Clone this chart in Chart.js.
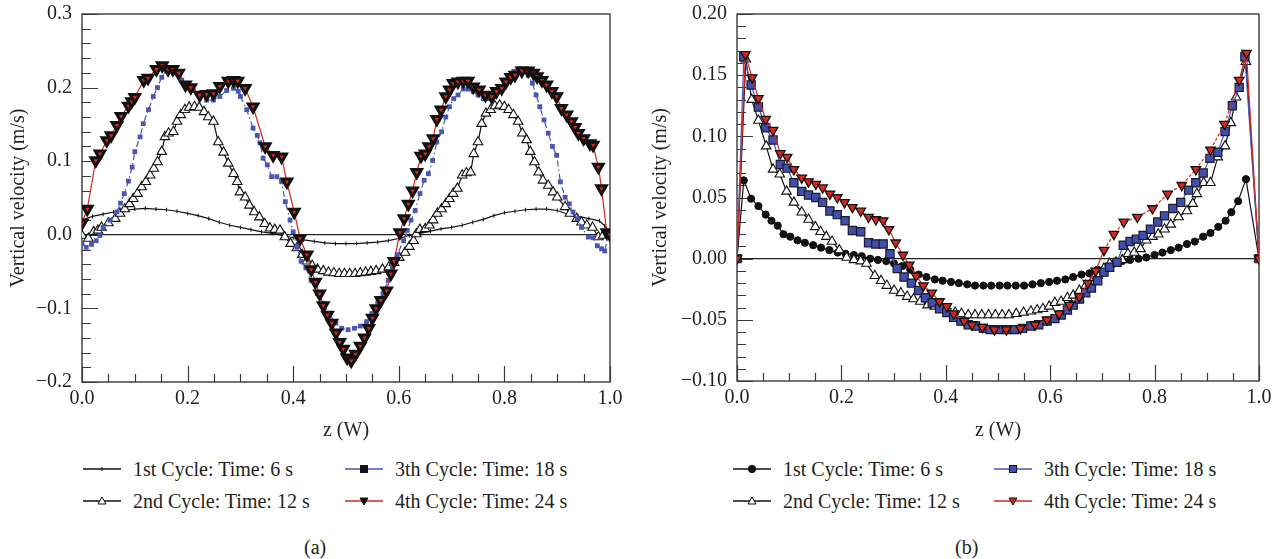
<!DOCTYPE html>
<html>
<head>
<meta charset="utf-8">
<script src="https://cdn.jsdelivr.net/npm/chart.js@4.4.1/dist/chart.umd.min.js"></script>
<style>
  body { margin: 0; background: #fff; }
  #page { position: relative; width: 1282px; height: 559px; overflow: hidden; font-family: "Liberation Serif", "DejaVu Serif", serif; color: #231f20; }
  .box { position: absolute; top: 0; height: 445px; }
  .leg { position: absolute; font-size: 20px; line-height: 24px; white-space: nowrap; display: flex; align-items: center; }
  .leg svg { margin-right: 12px; }
  .cap { position: absolute; top: 535px; font-size: 20px; line-height: 24px; }
</style>
</head>
<body>
<div id="page">
  <div class="box" style="left:0;width:640px"><canvas id="chartA"></canvas></div>
  <div class="box" style="left:640px;width:642px"><canvas id="chartB"></canvas></div>
  <div id="legA"></div>
  <div id="legB"></div>
  <div class="cap" style="left:304px">(a)</div>
  <div class="cap" style="left:955px">(b)</div>
</div>
<script>
// ---------- panel (a) data ----------
var labels = ['1st Cycle: Time: 6 s', '2nd Cycle: Time: 12 s', '3th Cycle: Time: 18 s', '4th Cycle: Time: 24 s'];

var aZ1 = [0,0.02,0.04,0.06,0.08,0.10,0.12,0.14,0.16,0.18,0.20,0.22,0.24,0.26,0.28,0.30,0.32,0.34,0.36,0.38,0.40,0.42,0.44,0.46,0.48,0.50,0.52,0.54,0.56,0.58,0.60,0.62,0.64,0.66,0.68,0.70,0.72,0.74,0.76,0.78,0.80,0.82,0.84,0.86,0.88,0.90,0.92,0.94,0.96,0.98,0.99,1.0];
var aV1 = [0.02,0.025,0.028,0.031,0.033,0.035,0.036,0.035,0.034,0.032,0.029,0.026,0.022,0.017,0.013,0.010,0.007,0.004,0.002,-0.001,-0.004,-0.007,-0.009,-0.011,-0.012,-0.012,-0.012,-0.011,-0.010,-0.008,-0.005,-0.001,0.002,0.005,0.008,0.010,0.013,0.017,0.021,0.026,0.030,0.032,0.034,0.035,0.035,0.033,0.028,0.025,0.022,0.019,0.012,0.0];

var aZ2 = [0,0.012,0.022,0.03,0.037,0.05,0.063,0.072,0.081,0.09,0.097,0.105,0.113,0.121,0.129,0.136,0.143,0.151,0.157,0.164,0.173,0.18,0.187,0.195,0.203,0.213,0.222,0.231,0.239,0.249,0.258,0.268,0.277,0.287,0.294,0.299,0.309,0.317,0.326,0.336,0.346,0.356,0.365,0.375,0.384,0.395,0.407,0.417,0.426,0.436,0.446,0.457,0.467,0.477,0.487,0.497,0.507,0.517,0.527,0.537,0.547,0.557,0.569,0.581,0.591,0.601,0.612,0.62,0.628,0.633,0.64,0.65,0.658,0.665,0.673,0.681,0.689,0.696,0.703,0.711,0.72,0.728,0.736,0.742,0.75,0.757,0.765,0.774,0.782,0.791,0.8,0.808,0.817,0.826,0.834,0.842,0.849,0.857,0.865,0.873,0.883,0.892,0.9,0.915,0.924,0.937,0.946,0.956,0.967,0.978,0.987,1.0];
var aV2 = [-0.001,-0.005,0.004,0.006,0.01,0.016,0.022,0.029,0.035,0.042,0.049,0.056,0.065,0.072,0.081,0.09,0.099,0.113,0.133,0.138,0.14,0.154,0.163,0.17,0.173,0.174,0.173,0.167,0.16,0.154,0.126,0.112,0.097,0.083,0.072,0.058,0.051,0.04,0.031,0.024,0.015,0.009,0.007,0.006,-0.003,-0.012,-0.018,-0.027,-0.036,-0.042,-0.047,-0.049,-0.051,-0.052,-0.053,-0.053,-0.053,-0.053,-0.052,-0.051,-0.05,-0.049,-0.047,-0.044,-0.038,-0.031,-0.024,-0.016,-0.008,0.001,0.007,0.008,0.013,0.02,0.029,0.035,0.042,0.049,0.056,0.063,0.081,0.084,0.085,0.11,0.126,0.151,0.165,0.17,0.175,0.176,0.174,0.17,0.163,0.154,0.138,0.129,0.113,0.099,0.085,0.074,0.067,0.058,0.051,0.038,0.029,0.022,0.017,0.013,0.01,-0.003,-0.001,0.0];

var aZ3 = [0,0.008,0.018,0.027,0.034,0.04,0.053,0.066,0.073,0.08,0.088,0.095,0.1,0.11,0.116,0.126,0.135,0.143,0.151,0.16,0.17,0.178,0.189,0.198,0.211,0.223,0.236,0.249,0.261,0.274,0.287,0.296,0.3,0.312,0.324,0.332,0.337,0.343,0.351,0.359,0.369,0.378,0.385,0.394,0.4,0.407,0.415,0.424,0.434,0.446,0.457,0.469,0.481,0.492,0.504,0.516,0.527,0.539,0.549,0.56,0.57,0.58,0.588,0.597,0.609,0.616,0.623,0.631,0.64,0.648,0.656,0.664,0.672,0.681,0.689,0.696,0.704,0.712,0.722,0.731,0.741,0.75,0.76,0.771,0.782,0.791,0.801,0.809,0.818,0.828,0.836,0.845,0.853,0.86,0.867,0.875,0.883,0.891,0.899,0.906,0.915,0.923,0.93,0.938,0.946,0.959,0.968,0.976,0.984,0.99,0.996,1.0];
var aV3 = [-0.012,-0.017,-0.013,-0.008,-0.001,0.01,0.02,0.031,0.043,0.056,0.073,0.092,0.113,0.133,0.151,0.17,0.188,0.2,0.214,0.222,0.223,0.22,0.21,0.201,0.196,0.188,0.183,0.183,0.188,0.196,0.199,0.195,0.188,0.17,0.145,0.135,0.125,0.104,0.095,0.079,0.079,0.072,0.045,0.02,0.004,-0.017,-0.036,-0.045,-0.062,-0.08,-0.093,-0.109,-0.12,-0.127,-0.129,-0.127,-0.124,-0.118,-0.107,-0.093,-0.08,-0.062,-0.044,-0.027,-0.008,0.006,0.02,0.033,0.056,0.074,0.083,0.101,0.126,0.14,0.16,0.174,0.185,0.19,0.198,0.198,0.195,0.19,0.185,0.185,0.188,0.195,0.21,0.216,0.222,0.226,0.224,0.217,0.206,0.19,0.174,0.156,0.138,0.12,0.108,0.072,0.051,0.042,0.031,0.022,0.01,-0.003,-0.004,-0.015,-0.019,-0.022,-0.002,0.0];

var aZ4 = [0,0.01,0.026,0.034,0.047,0.055,0.066,0.074,0.088,0.094,0.1,0.117,0.125,0.141,0.152,0.163,0.172,0.183,0.196,0.206,0.223,0.236,0.249,0.261,0.277,0.287,0.295,0.309,0.324,0.347,0.362,0.378,0.388,0.402,0.413,0.426,0.434,0.442,0.45,0.457,0.465,0.473,0.481,0.488,0.495,0.502,0.51,0.518,0.527,0.535,0.543,0.55,0.557,0.566,0.577,0.585,0.591,0.602,0.61,0.618,0.626,0.634,0.642,0.65,0.657,0.665,0.672,0.68,0.689,0.696,0.703,0.712,0.722,0.731,0.741,0.752,0.764,0.776,0.785,0.795,0.803,0.812,0.82,0.833,0.845,0.855,0.862,0.871,0.88,0.89,0.899,0.908,0.918,0.927,0.934,0.94,0.95,0.962,0.968,0.978,0.984,0.994,1.0];
var aV4 = [0.016,0.035,0.101,0.11,0.128,0.135,0.149,0.161,0.175,0.181,0.187,0.21,0.213,0.225,0.23,0.225,0.225,0.22,0.204,0.2,0.19,0.191,0.192,0.202,0.209,0.21,0.209,0.199,0.174,0.12,0.108,0.106,0.072,0.031,-0.005,-0.027,-0.047,-0.064,-0.08,-0.096,-0.109,-0.12,-0.133,-0.146,-0.155,-0.167,-0.171,-0.162,-0.151,-0.14,-0.127,-0.113,-0.1,-0.089,-0.076,-0.053,-0.036,0.003,0.022,0.042,0.06,0.085,0.107,0.11,0.12,0.131,0.157,0.17,0.188,0.197,0.206,0.208,0.209,0.209,0.201,0.197,0.19,0.188,0.195,0.199,0.208,0.214,0.217,0.223,0.223,0.22,0.215,0.21,0.204,0.195,0.188,0.172,0.163,0.154,0.146,0.138,0.131,0.124,0.122,0.092,0.063,0.003,0.0];

// ---------- panel (b) data ----------
var bZ1 = [0,0.013,0.027,0.041,0.055,0.066,0.078,0.089,0.102,0.116,0.13,0.146,0.161,0.177,0.193,0.208,0.224,0.239,0.255,0.27,0.286,0.301,0.317,0.332,0.348,0.363,0.379,0.394,0.41,0.425,0.441,0.456,0.472,0.487,0.503,0.518,0.534,0.55,0.566,0.582,0.598,0.613,0.629,0.644,0.66,0.675,0.691,0.707,0.722,0.738,0.753,0.769,0.784,0.8,0.815,0.831,0.846,0.862,0.877,0.893,0.907,0.922,0.936,0.947,0.96,0.975,1.0];
var bV1 = [0,0.064,0.049,0.043,0.036,0.031,0.027,0.02,0.018,0.015,0.013,0.011,0.009,0.007,0.005,0.004,0.003,0.002,0.0,-0.001,-0.002,-0.004,-0.006,-0.009,-0.013,-0.015,-0.017,-0.018,-0.019,-0.02,-0.021,-0.022,-0.022,-0.022,-0.022,-0.022,-0.022,-0.022,-0.021,-0.02,-0.019,-0.018,-0.017,-0.015,-0.013,-0.012,-0.009,-0.007,-0.004,-0.002,-0.001,0.0,0.001,0.003,0.005,0.007,0.009,0.012,0.014,0.018,0.021,0.026,0.031,0.038,0.047,0.065,0];

var bZ2 = [0,0.017,0.028,0.041,0.056,0.069,0.082,0.095,0.109,0.124,0.137,0.15,0.16,0.171,0.182,0.196,0.21,0.224,0.237,0.248,0.264,0.276,0.287,0.301,0.314,0.326,0.338,0.351,0.365,0.379,0.392,0.404,0.418,0.43,0.443,0.456,0.469,0.482,0.495,0.508,0.521,0.535,0.549,0.563,0.575,0.586,0.598,0.609,0.621,0.633,0.644,0.656,0.668,0.679,0.691,0.703,0.714,0.726,0.738,0.749,0.761,0.773,0.784,0.796,0.807,0.819,0.831,0.846,0.862,0.873,0.881,0.894,0.907,0.921,0.935,0.946,0.956,0.975,1.0];
var bV2 = [0,0.163,0.13,0.113,0.092,0.073,0.069,0.055,0.046,0.038,0.032,0.026,0.022,0.018,0.014,0.007,0.001,-0.001,-0.002,-0.004,-0.014,-0.018,-0.022,-0.026,-0.028,-0.031,-0.033,-0.035,-0.038,-0.039,-0.041,-0.043,-0.044,-0.045,-0.046,-0.046,-0.046,-0.046,-0.046,-0.046,-0.046,-0.045,-0.044,-0.043,-0.042,-0.041,-0.039,-0.036,-0.035,-0.032,-0.03,-0.026,-0.022,-0.019,-0.014,-0.008,-0.004,-0.003,-0.001,0.004,0.005,0.008,0.015,0.018,0.02,0.024,0.028,0.034,0.039,0.045,0.053,0.062,0.062,0.083,0.092,0.111,0.132,0.161,0];

var bZ3 = [0,0.013,0.027,0.041,0.055,0.069,0.083,0.096,0.109,0.124,0.137,0.151,0.164,0.178,0.192,0.207,0.221,0.237,0.252,0.266,0.28,0.293,0.307,0.32,0.334,0.348,0.361,0.374,0.388,0.402,0.415,0.429,0.443,0.457,0.472,0.485,0.501,0.516,0.532,0.547,0.563,0.578,0.594,0.609,0.621,0.633,0.644,0.656,0.668,0.679,0.691,0.703,0.714,0.728,0.74,0.753,0.765,0.778,0.792,0.806,0.819,0.835,0.85,0.865,0.879,0.893,0.906,0.921,0.935,0.949,0.962,0.973,1.0];
var bV3 = [0,0.165,0.142,0.124,0.107,0.097,0.077,0.074,0.062,0.055,0.052,0.05,0.046,0.039,0.036,0.031,0.023,0.022,0.013,0.012,0.012,0.004,-0.008,-0.015,-0.02,-0.026,-0.032,-0.036,-0.041,-0.044,-0.048,-0.051,-0.054,-0.055,-0.057,-0.058,-0.058,-0.058,-0.058,-0.057,-0.055,-0.054,-0.051,-0.049,-0.046,-0.042,-0.038,-0.033,-0.028,-0.024,-0.018,-0.011,-0.007,-0.003,0.011,0.014,0.016,0.019,0.024,0.03,0.035,0.041,0.046,0.056,0.062,0.07,0.082,0.087,0.104,0.125,0.14,0.165,0];

var bZ4 = [0,0.016,0.029,0.041,0.055,0.069,0.083,0.096,0.109,0.124,0.137,0.151,0.164,0.178,0.192,0.206,0.221,0.237,0.252,0.266,0.28,0.291,0.304,0.318,0.33,0.343,0.357,0.373,0.388,0.402,0.415,0.435,0.45,0.47,0.493,0.516,0.543,0.571,0.594,0.617,0.637,0.656,0.672,0.687,0.703,0.722,0.741,0.767,0.796,0.825,0.852,0.879,0.907,0.934,0.962,0.976,1.0];
var bV4 = [0,0.167,0.148,0.131,0.114,0.105,0.086,0.083,0.073,0.066,0.063,0.061,0.058,0.053,0.05,0.046,0.042,0.039,0.034,0.032,0.031,0.024,0.013,0.003,-0.005,-0.014,-0.022,-0.028,-0.035,-0.039,-0.045,-0.051,-0.054,-0.056,-0.058,-0.058,-0.057,-0.054,-0.05,-0.045,-0.038,-0.031,-0.02,-0.01,0.007,0.02,0.03,0.034,0.041,0.053,0.06,0.073,0.089,0.11,0.146,0.168,0];

// ---------- helpers ----------
function pts(zs, vs) {
  var out = [];
  for (var i = 0; i < zs.length; i++) out.push({ x: zs[i], y: vs[i] });
  return out;
}
function num(v, d) {
  if (Math.abs(v) < 1e-9) v = 0;
  return (v < 0 ? '\u2212' : '') + Math.abs(v).toFixed(d);
}

// frame + inward tick marks (left and bottom), like the original plot
var frameTicks = {
  id: 'frameTicks',
  beforeDatasetsDraw: function(chart, args, o) {
    var ctx = chart.ctx, a = chart.chartArea, xs = chart.scales.x, ys = chart.scales.y;
    ctx.save();
    ctx.strokeStyle = '#3a3a3a';
    ctx.lineWidth = 1.4;
    ctx.strokeRect(a.left, a.top, a.right - a.left, a.bottom - a.top);
    ctx.lineWidth = 1.2;
    ctx.beginPath();
    var nx = Math.round((xs.max - xs.min) / o.xMinor);
    for (var i = 0; i <= nx; i++) {
      var px = Math.round(xs.getPixelForValue(xs.min + i * o.xMinor)) + 0.5;
      var lx = (i % o.xPer === 0) ? 16 : 8;
      ctx.moveTo(px, a.bottom); ctx.lineTo(px, a.bottom - lx);
    }
    var ny = Math.round((ys.max - ys.min) / o.yMinor);
    for (var j = 0; j <= ny; j++) {
      var py = Math.round(ys.getPixelForValue(ys.min + j * o.yMinor)) + 0.5;
      var ly = (j % o.yPer === 0) ? 16 : 9;
      ctx.moveTo(a.left, py); ctx.lineTo(a.left + ly, py);
    }
    ctx.stroke();
    ctx.restore();
  }
};

var FONT = "'Liberation Serif', 'DejaVu Serif', serif";
var INK = '#231f20';
Chart.defaults.font.family = FONT;
Chart.defaults.color = INK;
var F20 = { family: FONT, size: 20, lineHeight: 1.15 };

function makeChart(id, sets, cfg) {
  return new Chart(document.getElementById(id), {
    type: 'line',
    data: { datasets: sets },
    plugins: [frameTicks],
    options: {
      responsive: true,
      maintainAspectRatio: false,
      animation: false,
      layout: { padding: { top: 14, right: cfg.padRight, left: 0, bottom: 0 } },
      plugins: {
        legend: { display: false },
        tooltip: { enabled: false },
        frameTicks: { xMinor: 0.05, xPer: 4, yMinor: cfg.yMinor, yPer: 5 }
      },
      scales: {
        x: {
          type: 'linear', min: 0, max: 1,
          afterFit: function(s) { s.height = cfg.xHeight; },
          border: { display: false },
          grid: { display: false, drawTicks: false },
          ticks: { stepSize: 0.2, padding: 5, font: F20, color: INK, maxRotation: 0,
                   callback: function(v) { return num(v, 1); } },
          title: { display: true, text: 'z (W)', font: F20, color: INK, padding: { top: 0, bottom: 3 } }
        },
        y: {
          min: cfg.yMin, max: cfg.yMax,
          // fixed axis width; label overhang must not push the plot down
          afterFit: function(s) { s.width = cfg.yWidth; s.paddingTop = 0; s.paddingBottom = 0; },
          border: { display: false },
          grid: { drawTicks: false, lineWidth: 1.2,
                  color: function(c) { return (c.tick && Math.abs(c.tick.value) < 1e-9) ? '#222' : 'rgba(0,0,0,0)'; } },
          ticks: { stepSize: cfg.yStep, padding: 10, font: F20, color: INK,
                   callback: function(v) { return num(v, cfg.yDec); } },
          title: { display: true, text: 'Vertical velocity (m/s)', font: F20, color: INK, padding: { top: cfg.titlePad, bottom: 0 } }
        }
      }
    }
  });
}

// ---------- panel (a) ----------
var RED = '#d7261e', BLUE = '#4a55b5';
makeChart('chartA', [
  { label: labels[3], data: pts(aZ4, aV4), borderColor: RED, borderWidth: 1.2, pointStyle: 'triangle', rotation: 180,
    pointRadius: 5.5, pointBackgroundColor: RED, pointBorderColor: '#111', pointBorderWidth: 3, order: 1 },
  { label: labels[2], data: pts(aZ3, aV3), borderColor: BLUE, borderWidth: 1.2, borderDash: [6, 3, 1.5, 3], pointStyle: 'rect',
    pointRadius: 3.4, pointBackgroundColor: BLUE, pointBorderColor: BLUE, pointBorderWidth: 0, order: 2 },
  { label: labels[1], data: pts(aZ2, aV2), borderColor: '#111', borderWidth: 1.2, pointStyle: 'triangle',
    pointRadius: 5.5, pointBackgroundColor: '#fff', pointBorderColor: '#111', pointBorderWidth: 1.1, order: 3 },
  { label: labels[0], data: pts(aZ1, aV1), borderColor: '#111', borderWidth: 1.2, pointStyle: 'line', rotation: 90,
    pointRadius: 2, pointBorderColor: '#111', pointBorderWidth: 1, order: 4 }
], { padRight: 30, yMin: -0.2, yMax: 0.3, yStep: 0.1, yMinor: 0.02, yDec: 1, yWidth: 82, xHeight: 63, titlePad: 7 });

// ---------- panel (b) ----------
makeChart('chartB', [
  { label: labels[3], data: pts(bZ4, bV4), borderColor: RED, borderWidth: 1.2, pointStyle: 'triangle', rotation: 180,
    pointRadius: 5.5, pointBackgroundColor: RED, pointBorderColor: '#111', pointBorderWidth: 1.3, order: 1,
    segment: { borderDash: function(c) { return c.p0.parsed.x >= 0.7 && c.p1.parsed.x < 0.97 ? [3, 2] : undefined; } } },
  { label: labels[2], data: pts(bZ3, bV3), borderColor: BLUE, borderWidth: 1.2, pointStyle: 'rect',
    pointRadius: 5.8, pointBackgroundColor: '#3f4fae', pointBorderColor: '#1a1a2a', pointBorderWidth: 1.2, order: 2 },
  { label: labels[1], data: pts(bZ2, bV2), borderColor: '#111', borderWidth: 1.2, pointStyle: 'triangle',
    pointRadius: 5.5, pointBackgroundColor: '#fff', pointBorderColor: '#111', pointBorderWidth: 1.1, order: 3 },
  { label: labels[0], data: pts(bZ1, bV1), borderColor: '#111', borderWidth: 1.2, pointStyle: 'circle',
    pointRadius: 3.6, pointBackgroundColor: '#111', pointBorderColor: '#111', pointBorderWidth: 1, order: 4 }
], { padRight: 23, yMin: -0.1, yMax: 0.2, yStep: 0.05, yMinor: 0.01, yDec: 2, yWidth: 97, xHeight: 64, titlePad: 9 });

// ---------- legends (two columns, as in the figure) ----------
function icon(kind, color, fill) {
  var m = '';
  if (kind === 'tick') m = '<line x1="19" y1="5" x2="19" y2="9" stroke="#111" stroke-width="1"/>';
  if (kind === 'tri') m = '<polygon points="19,3 23,10 15,10" fill="#fff" stroke="#111" stroke-width="1"/>';
  if (kind === 'sq') m = '<rect x="15.5" y="3.5" width="7" height="7" fill="' + fill + '" stroke="#111" stroke-width="1"/>';
  if (kind === 'dtri') m = '<polygon points="15,4 23,4 19,11" fill="' + fill + '" stroke="#111" stroke-width="1"/>';
  if (kind === 'dot') m = '<circle cx="19" cy="7" r="4" fill="#111"/>';
  return '<svg width="38" height="14" viewBox="0 0 38 14"><line x1="0" y1="7" x2="38" y2="7" stroke="' + color + '" stroke-width="1.3"/>' + m + '</svg>';
}
function legend(el, items) {
  var html = '';
  items.forEach(function(it) {
    html += '<div class="leg" style="left:' + it.x + 'px;top:' + it.y + 'px">' + icon(it.kind, it.color, it.fill) + '<span>' + it.text + '</span></div>';
  });
  document.getElementById(el).innerHTML = html;
}
legend('legA', [
  { x: 83, y: 457, kind: 'tick', color: '#111', text: labels[0] },
  { x: 83, y: 489, kind: 'tri', color: '#111', text: labels[1] },
  { x: 345, y: 457, kind: 'sq', color: BLUE, fill: '#111', text: labels[2] },
  { x: 345, y: 489, kind: 'dtri', color: RED, fill: '#111', text: labels[3] }
]);
legend('legB', [
  { x: 733, y: 457, kind: 'dot', color: '#111', text: labels[0] },
  { x: 733, y: 489, kind: 'tri', color: '#111', text: labels[1] },
  { x: 994, y: 457, kind: 'sq', color: BLUE, fill: '#3f4fae', text: labels[2] },
  { x: 994, y: 489, kind: 'dtri', color: RED, fill: RED, text: labels[3] }
]);
</script>
</body>
</html>
